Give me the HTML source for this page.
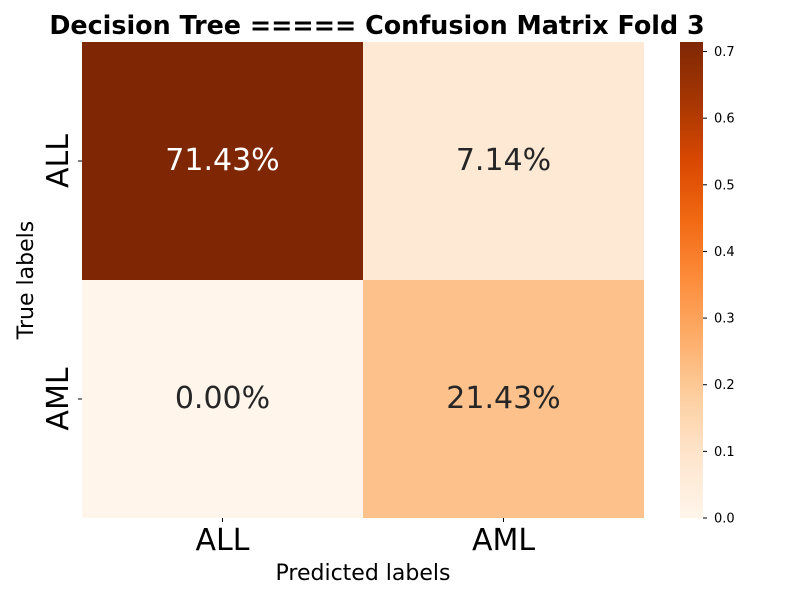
<!DOCTYPE html>
<html><head><meta charset="utf-8"><style>
body{margin:0;background:#fff;}
svg text{font-family:"DejaVu Sans","Liberation Sans",sans-serif;}
</style></head><body>
<svg id="chart" width="800" height="600" xmlns="http://www.w3.org/2000/svg">
<defs><linearGradient id="cbg" x1="0" y1="1" x2="0" y2="0"></linearGradient></defs>
<text x="377" y="34" text-anchor="middle" font-size="25.4" font-weight="bold" fill="#000">Decision Tree ===== Confusion Matrix Fold 3</text>
<g id="cells"></g>
<g id="axes"></g>
<text x="363" y="580" text-anchor="middle" font-size="22" fill="#000">Predicted labels</text>
<text transform="translate(33,280) rotate(-90)" text-anchor="middle" font-size="22" fill="#000">True labels</text>
<rect x="680" y="42" width="23" height="476" fill="url(#cbg)"/>
<g id="cbticks"></g>
</svg>
<script>
const categories = ["ALL", "AML"];
const values = [[0.7143, 0.0714], [0.0, 0.2143]];
const labels = [["71.43%", "7.14%"], ["0.00%", "21.43%"]];
const cbTicks = [0, 0.1, 0.2, 0.3, 0.4, 0.5, 0.6, 0.7];
const vmin = 0, vmax = 0.7143;

const NS = "http://www.w3.org/2000/svg";
const stops = ["#fff5eb","#fee6ce","#fdd0a2","#fdae6b","#fd8d3c","#f16913","#d94801","#a63603","#7f2704"];
function hex(c){return [1,3,5].map(i=>parseInt(c.substr(i,2),16));}
function cmap(v){
  let t = Math.max(0, Math.min(1, (v - vmin) / (vmax - vmin))) * (stops.length - 1);
  let i = Math.min(Math.floor(t), stops.length - 2), f = t - i;
  let a = hex(stops[i]), b = hex(stops[i+1]);
  return "rgb(" + a.map((x,k)=>Math.round(x + (b[k]-x)*f)).join(",") + ")";
}
const X0 = 82, X1 = 644, Y0 = 42, Y1 = 518;
const cw = (X1 - X0) / categories.length, ch = (Y1 - Y0) / categories.length;
const xs = i => X0 + i * cw, ys = j => Y0 + j * ch;
const cby = v => Y1 - (v - vmin) / (vmax - vmin) * (Y1 - Y0);

const grad = document.getElementById("cbg");
stops.forEach((s, i) => {
  const st = document.createElementNS(NS, "stop");
  st.setAttribute("offset", (i / (stops.length - 1) * 100) + "%");
  st.setAttribute("stop-color", s);
  grad.appendChild(st);
});

const cells = document.getElementById("cells");
values.forEach((row, j) => row.forEach((v, i) => {
  const r = document.createElementNS(NS, "rect");
  r.setAttribute("x", xs(i)); r.setAttribute("y", ys(j));
  r.setAttribute("width", cw); r.setAttribute("height", ch);
  r.setAttribute("fill", cmap(v));
  
  
  cells.appendChild(r);
  const t = document.createElementNS(NS, "text");
  t.setAttribute("x", xs(i) + cw / 2); t.setAttribute("y", ys(j) + ch / 2 + 9);
  t.setAttribute("text-anchor", "middle"); t.setAttribute("font-size", "30");
  t.setAttribute("fill", (v - vmin) / (vmax - vmin) > 0.5 ? "#fff" : "#262626");
  t.textContent = labels[j][i];
  
  
  cells.appendChild(t);
}));

const axes = document.getElementById("axes");
categories.forEach((c, i) => {
  const tx = document.createElementNS(NS, "text");
  tx.setAttribute("x", xs(i) + cw / 2); tx.setAttribute("y", 550);
  tx.setAttribute("text-anchor", "middle"); tx.setAttribute("font-size", "30");
  tx.textContent = c;
  
  
  axes.appendChild(tx);
  const lx = document.createElementNS(NS, "line");
  lx.setAttribute("x1", xs(i) + cw / 2); lx.setAttribute("x2", xs(i) + cw / 2);
  lx.setAttribute("y1", Y1); lx.setAttribute("y2", Y1 + 4); lx.setAttribute("stroke", "#000");
  
  
  axes.appendChild(lx);
  const yc = ys(i) + ch / 2;
  const ty = document.createElementNS(NS, "text");
  ty.setAttribute("transform", "translate(68," + yc + ") rotate(-90)");
  ty.setAttribute("text-anchor", "middle"); ty.setAttribute("font-size", "30");
  ty.textContent = c;
  
  
  axes.appendChild(ty);
  const ly = document.createElementNS(NS, "line");
  ly.setAttribute("x1", X0 - 4); ly.setAttribute("x2", X0);
  ly.setAttribute("y1", yc); ly.setAttribute("y2", yc); ly.setAttribute("stroke", "#000");
  
  
  axes.appendChild(ly);
});

const cbt = document.getElementById("cbticks");
cbTicks.forEach(v => {
  const y = cby(v);
  const l = document.createElementNS(NS, "line");
  l.setAttribute("x1", 703); l.setAttribute("x2", 707);
  l.setAttribute("y1", y); l.setAttribute("y2", y); l.setAttribute("stroke", "#000");
  
  
  cbt.appendChild(l);
  const t = document.createElementNS(NS, "text");
  t.setAttribute("x", 714); t.setAttribute("y", y + 4.5);
  t.setAttribute("font-size", "13");
  t.textContent = v.toFixed(1);
  
  
  cbt.appendChild(t);
});
</script>
</body></html>
